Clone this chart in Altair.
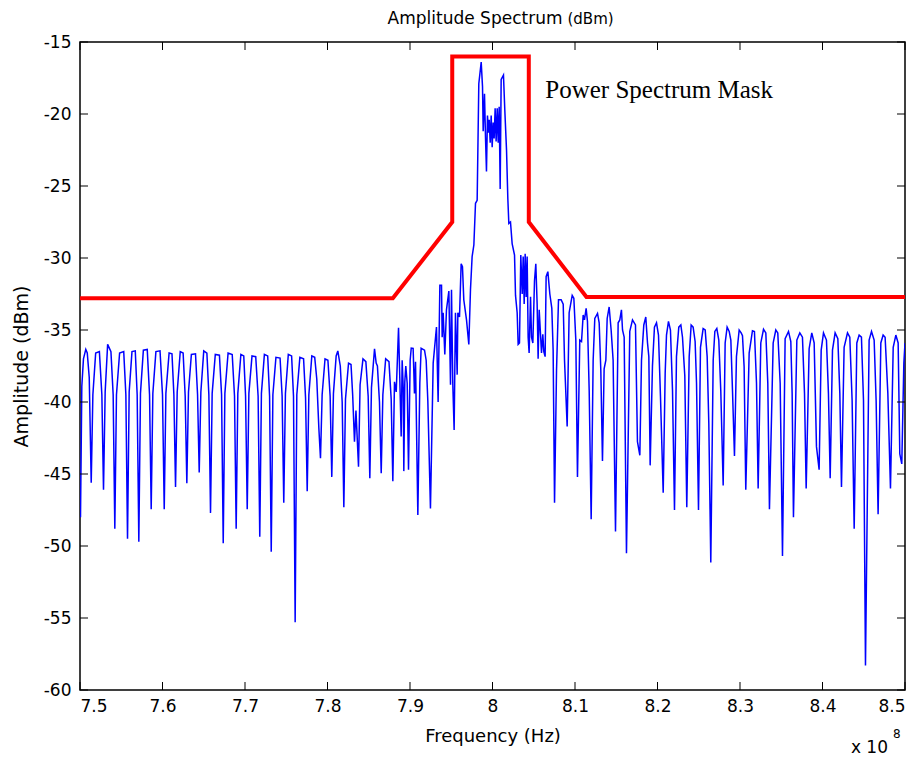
import altair as alt
import pandas as pd

trace_mhz = [
    750.06, 750.22, 750.42, 750.70, 750.88, 751.12, 751.36, 751.56, 751.90, 752.35, 752.65, 752.85,
    753.05, 753.35, 753.75, 754.02, 754.22, 754.42, 754.80, 755.30, 755.56, 755.76, 755.96, 756.30,
    756.70, 756.93, 757.13, 757.33, 757.68, 758.15, 758.43, 758.63, 758.83, 759.20, 759.70, 760.00,
    760.21, 760.41, 760.80, 761.15, 761.38, 761.58, 761.78, 762.15, 762.50, 762.75, 762.95, 763.15,
    763.50, 764.00, 764.25, 764.45, 764.65, 765.00, 765.38, 765.62, 765.82, 766.02, 766.40, 766.90,
    767.16, 767.36, 767.56, 767.95, 768.45, 768.73, 768.93, 769.13, 769.50, 769.85, 770.07, 770.27,
    770.47, 770.85, 771.30, 771.59, 771.79, 771.99, 772.35, 772.75, 772.98, 773.18, 773.38, 773.75,
    774.25, 774.50, 774.70, 774.90, 775.25, 775.65, 775.88, 776.08, 776.28, 776.65, 777.10, 777.34,
    777.54, 777.74, 778.10, 778.45, 778.70, 778.95, 779.15, 779.35, 779.70, 780.05, 780.32, 780.52,
    780.72, 781.05, 781.25, 781.55, 781.78, 781.98, 782.18, 782.55, 782.85, 783.05, 783.27, 783.45,
    783.76, 783.95, 784.30, 784.65, 784.93, 785.13, 785.33, 785.70, 785.90, 786.05, 786.30, 786.51,
    786.71, 787.05, 787.45, 787.72, 787.92, 788.12, 788.33, 788.61, 788.76, 788.93, 789.05, 789.18,
    789.25, 789.37, 789.49, 789.66, 789.82, 790.02, 790.15,
    # central band
    790.38, 790.54, 790.67, 790.95, 791.19, 791.35, 791.76, 791.96, 792.16, 792.48, 792.81, 793.21,
    793.41, 793.62, 793.82, 793.90, 794.02, 794.22, 794.42, 794.71, 794.91, 795.03, 795.19, 795.35,
    795.51, 795.72, 795.80, 796.00, 796.20, 796.36, 796.52, 796.85, 797.13, 797.33, 797.53, 797.74,
    797.94, 798.14, 798.34, 798.63, 798.79, 798.87, 799.03, 799.15, 799.27, 799.39, 799.51, 799.60,
    799.72, 799.84, 799.96, 800.08, 800.20, 800.32, 800.44, 800.57, 800.69, 800.81, 800.93, 801.05,
    801.33, 801.49, 801.70, 801.86, 801.98, 802.18, 802.38, 802.67, 802.79, 802.99, 803.11, 803.27,
    803.43, 803.60, 803.72, 803.84, 803.96, 804.08, 804.20, 804.32, 804.44, 804.61, 804.73, 804.89,
    805.09, 805.25, 805.41, 805.53, 805.66, 805.82, 805.94, 806.10, 806.22, 806.38, 806.50, 806.71,
    806.95, 807.19, 807.35, 807.52, 807.76, 808.00, 808.32, 808.57, 808.73, 809.05, 809.29, 809.66,
    809.86, 810.10, 810.30,
    # right side lobes
    810.58, 810.79, 810.99, 811.15, 811.35, 811.51, 811.72, 811.96, 812.20, 812.40, 812.73, 812.93,
    813.13, 813.33, 813.53, 813.74, 813.90, 814.14, 814.38, 814.62, 814.91, 815.23, 815.43, 815.63,
    815.76, 815.96, 816.24, 816.64, 816.97, 817.33, 817.57, 817.86, 818.06, 818.34, 818.58, 818.79,
    818.95, 819.11, 819.39, 819.63, 819.88, 820.12, 820.36, 820.69, 820.93, 821.09, 821.33, 821.57,
    821.82, 822.06, 822.30, 822.58, 822.83, 823.03, 823.31, 823.55, 823.84, 824.08, 824.32, 824.56,
    824.73, 824.97, 825.21, 825.53, 825.78, 826.02, 826.22, 826.46, 826.75, 826.95, 827.19, 827.43,
    827.67, 827.96, 828.20, 828.44, 828.69, 828.89, 829.09, 829.33, 829.57, 829.90, 830.14, 830.30,
    830.50, 830.70, 831.11, 831.51, 831.75, 832.00, 832.20, 832.52, 832.85, 833.13, 833.37, 833.57,
    834.02, 834.34, 834.58, 834.87, 835.15, 835.47, 835.88, 836.16, 836.32, 836.48, 836.89, 837.25,
    837.57, 837.82, 838.02, 838.38, 838.70, 838.99, 839.27, 839.59, 839.84, 840.12, 840.48, 840.72,
    840.93, 841.21, 841.53, 841.86, 842.10, 842.30, 842.62, 843.03, 843.31, 843.59, 843.84, 844.16,
    844.44, 844.72, 844.97, 845.21, 845.65, 845.94, 846.26, 846.50, 846.74, 847.07, 847.35, 847.59,
    847.92, 848.24, 848.57, 848.89, 849.17, 849.37, 849.61, 849.86, 850.00,
]
trace_db = [
    -48.0, -38.9, -37.0, -36.35, -36.6, -38.3, -45.6, -39.5, -36.6, -36.5, -39.5, -46.1,
    -39.3, -36.0, -36.5, -39.5, -48.8, -39.5, -36.6, -36.5, -39.5, -49.5, -39.3, -36.5,
    -36.45, -39.5, -49.7, -39.4, -36.4, -36.35, -39.5, -47.45, -39.4, -36.5, -36.45, -39.5,
    -47.45, -39.4, -36.6, -36.65, -39.5, -45.9, -39.3, -36.5, -36.6, -39.6, -45.65, -39.3,
    -36.7, -36.65, -39.5, -44.9, -39.3, -36.45, -36.6, -39.5, -47.7, -39.4, -36.7, -36.75,
    -39.5, -49.8, -39.4, -36.6, -36.7, -39.6, -48.8, -39.4, -36.7, -36.8, -39.6, -47.45,
    -39.4, -36.8, -36.85, -39.6, -49.35, -39.4, -36.7, -36.8, -39.6, -50.4, -39.5, -36.9,
    -36.95, -39.6, -47.0, -39.4, -36.7, -36.8, -39.6, -55.3, -39.5, -36.9, -37.0, -39.7,
    -46.2, -39.5, -36.8, -36.9, -38.4, -41.8, -43.9, -39.5, -37.0, -37.1, -39.6, -45.2,
    -39.4, -36.8, -36.45, -37.5, -40.0, -47.3, -39.8, -37.3, -37.4, -39.5, -42.75, -40.6,
    -44.5, -38.8, -37.0, -37.2, -39.6, -45.3, -39.0, -36.3, -37.3, -37.5, -40.0, -44.95,
    -39.5, -37.0, -37.2, -39.8, -45.5, -38.6, -39.3, -34.85, -38.3, -42.4, -37.1, -39.0,
    -44.8, -38.6, -37.5, -38.7, -44.7, -37.1, -36.25,
    # central band
    -36.27, -39.4, -37.2, -47.85, -38.7, -36.27, -36.4, -37.1, -39.9, -47.4, -37.3, -34.8,
    -40.0, -31.9, -31.9, -35.5, -33.8, -36.7, -33.6, -32.3, -38.8, -32.2, -38.8, -41.95,
    -33.8, -38.1, -33.8, -34.1, -30.4, -30.6, -32.9, -34.3, -36.0, -32.2, -29.9, -29.1,
    -26.2, -26.0, -17.9, -16.4, -18.1, -21.2, -18.6, -21.6, -24.0, -20.1, -21.3, -20.4,
    -22.0, -20.1, -22.3, -20.6, -21.7, -19.6, -21.9, -19.6, -22.0, -19.5, -25.2, -17.6,
    -17.3, -19.7, -22.5, -25.9, -27.6, -27.5, -29.0, -29.8, -32.6, -33.8, -36.0, -35.9,
    -29.8, -32.5, -29.9, -33.2, -29.7, -32.7, -29.9, -35.5, -36.6, -32.7, -35.5, -35.9,
    -31.6, -30.4, -33.2, -37.0, -33.6, -35.3, -36.6, -35.3, -36.5, -36.85, -31.3, -30.95,
    -32.5, -33.5, -36.4, -47.0, -37.8, -32.9, -32.9, -33.2, -37.1, -41.7, -33.8, -32.6,
    -32.8, -35.7, -45.2,
    # right side lobes
    -35.7, -35.8, -33.96, -34.3, -33.5, -34.4, -39.2, -48.15, -37.1, -34.2, -33.85, -34.5,
    -37.8, -44.1, -37.7, -37.1, -34.2, -33.4, -35.0, -37.1, -49.0, -34.5, -34.3, -33.6,
    -35.0, -35.5, -50.5, -35.1, -34.3, -34.65, -42.75, -43.7, -37.1, -34.65, -34.1, -35.9,
    -36.85, -44.4, -37.5, -34.8, -34.5, -35.35, -39.6, -46.3, -38.0, -35.35, -34.4, -35.0,
    -39.2, -47.5, -36.85, -34.8, -34.65, -35.5, -38.2, -47.3, -36.85, -34.65, -34.8, -35.8,
    -38.7, -47.5, -36.2, -34.9, -35.0, -36.85, -41.5, -51.15, -37.1, -35.1, -34.9, -35.7,
    -39.2, -45.8, -35.9, -34.8, -35.1, -35.7, -39.2, -43.75, -36.85, -35.0, -35.2, -35.4,
    -37.55, -46.1, -36.6, -35.05, -35.1, -38.7, -46.0, -35.9, -34.95, -35.2, -38.7, -47.45,
    -35.9, -35.0, -35.2, -38.7, -50.7, -35.6, -35.1, -35.8, -39.4, -48.0, -35.7, -35.2,
    -35.5, -39.4, -46.0, -36.3, -35.2, -35.9, -43.1, -44.7, -36.4, -35.2, -35.7, -39.4,
    -45.3, -36.4, -35.2, -35.6, -39.4, -45.9, -36.2, -35.2, -35.5, -39.9, -48.8, -35.9,
    -35.35, -35.5, -39.9, -58.3, -35.7, -35.1, -35.7, -39.9, -47.8, -35.9, -35.35, -35.5,
    -39.4, -46.0, -36.2, -35.35, -35.9, -43.6, -44.3, -37.3, -35.9,
]

# ---- red power spectrum mask
mask_mhz = [750.0, 787.92, 795.12, 795.12, 804.40, 804.40, 811.39, 850.0]
mask_db = [-32.8, -32.8, -27.5, -16.0, -16.0, -27.5, -32.7, -32.7]

# ---- axis ticks (x in units of 1e8 Hz)
x_ticks = [7.5, 7.6, 7.7, 7.8, 7.9, 8.0, 8.1, 8.2, 8.3, 8.4, 8.5]
y_ticks = [-60, -55, -50, -45, -40, -35, -30, -25, -20, -15]

title_main = "Amplitude Spectrum"
title_unit = "(dBm)"
x_title = "Frequency (Hz)"
y_title = "Amplitude (dBm)"
mask_label = "Power Spectrum Mask"
exp_base = "x 10"
exp_power = "8"

SANS = "DejaVu Sans"
SERIF = "Liberation Serif"

trace = pd.DataFrame({
    "f": [m / 100.0 for m in trace_mhz],
    "db": trace_db,
    "i": list(range(len(trace_mhz))),
})
mask = pd.DataFrame({
    "f": [m / 100.0 for m in mask_mhz],
    "db": mask_db,
    "i": list(range(len(mask_mhz))),
})

xscale = alt.Scale(domain=[7.5, 8.5], nice=False, zero=False)
yscale = alt.Scale(domain=[-60, -15], nice=False, zero=False)

xaxis = alt.Axis(
    values=x_ticks, labelExpr="format(datum.value, '.1~f')", title=x_title,
    grid=False, ticks=False, domain=False, labelFont=SANS, labelFontSize=17,
    labelColor="black", labelPadding=8, titleFont=SANS, titleFontSize=18,
    titleFontWeight="normal", titleColor="black", titlePadding=13,
)
yaxis = alt.Axis(
    values=y_ticks, labelExpr="'' + datum.value", title=y_title,
    grid=False, ticks=False, domain=False, labelFont=SANS, labelFontSize=17,
    labelColor="black", labelPadding=9, titleFont=SANS, titleFontSize=19,
    titleFontWeight="normal", titleColor="black", titlePadding=12,
)

blue = alt.Chart(trace).mark_line(color="#0000ff", strokeWidth=1.5, clip=True).encode(
    x=alt.X("f:Q", scale=xscale, axis=xaxis),
    y=alt.Y("db:Q", scale=yscale, axis=yaxis),
    order="i:Q",
)
red = alt.Chart(mask).mark_line(color="#ff0000", strokeWidth=4, clip=True).encode(
    x=alt.X("f:Q", scale=xscale),
    y=alt.Y("db:Q", scale=yscale),
    order="i:Q",
)

xt = pd.DataFrame({"f": x_ticks, "ybot": [-60] * len(x_ticks), "ytop": [-15] * len(x_ticks)})
yt = pd.DataFrame({"v": y_ticks, "xl": [7.5] * len(y_ticks), "xr": [8.5] * len(y_ticks)})

tick_bottom = alt.Chart(xt).mark_tick(orient="vertical", size=8, thickness=1, color="black", yOffset=-4, opacity=1).encode(
    x=alt.X("f:Q", scale=xscale), y=alt.Y("ybot:Q", scale=yscale))
tick_top = alt.Chart(xt).mark_tick(orient="vertical", size=8, thickness=1, color="black", yOffset=4, opacity=1).encode(
    x=alt.X("f:Q", scale=xscale), y=alt.Y("ytop:Q", scale=yscale))
tick_left = alt.Chart(yt).mark_tick(orient="horizontal", size=8, thickness=1, color="black", xOffset=4, opacity=1).encode(
    x=alt.X("xl:Q", scale=xscale), y=alt.Y("v:Q", scale=yscale))
tick_right = alt.Chart(yt).mark_tick(orient="horizontal", size=8, thickness=1, color="black", xOffset=-4, opacity=1).encode(
    x=alt.X("xr:Q", scale=xscale), y=alt.Y("v:Q", scale=yscale))

ann = pd.DataFrame({"f": [8.064], "db": [-18.9], "t": [mask_label]})
mask_text = alt.Chart(ann).mark_text(
    font=SERIF, fontSize=25, align="left", baseline="alphabetic", color="black"
).encode(x=alt.X("f:Q", scale=xscale), y=alt.Y("db:Q", scale=yscale), text="t:N")

# title: main words and a slightly smaller unit, anchored above the plot centre
ttl = pd.DataFrame({"f": [8.0], "db": [-15.0], "a": [title_main], "b": [title_unit]})
title1 = alt.Chart(ttl).mark_text(
    font=SANS, fontSize=17, align="right", baseline="alphabetic", dx=70, dy=-18, color="black"
).encode(x=alt.X("f:Q", scale=xscale), y=alt.Y("db:Q", scale=yscale), text="a:N")
title2 = alt.Chart(ttl).mark_text(
    font=SANS, fontSize=15, align="left", baseline="alphabetic", dx=75, dy=-18, color="black"
).encode(x=alt.X("f:Q", scale=xscale), y=alt.Y("db:Q", scale=yscale), text="b:N")

expo = pd.DataFrame({"f": [8.5], "db": [-60.0], "a": [exp_base], "b": [exp_power]})
exp_text1 = alt.Chart(expo).mark_text(
    font=SANS, fontSize=17, align="right", baseline="alphabetic", dx=-17, dy=63, color="black"
).encode(x=alt.X("f:Q", scale=xscale), y=alt.Y("db:Q", scale=yscale), text="a:N")
exp_text2 = alt.Chart(expo).mark_text(
    font=SANS, fontSize=12, align="left", baseline="alphabetic", dx=-12, dy=48, color="black"
).encode(x=alt.X("f:Q", scale=xscale), y=alt.Y("db:Q", scale=yscale), text="b:N")

chart = alt.layer(
    blue, red, tick_bottom, tick_top, tick_left, tick_right, mask_text,
    title1, title2, exp_text1, exp_text2
).properties(
    width=825, height=648,
    autosize=alt.AutoSizeParams(type="none"),
    padding={"left": 80, "top": 42, "right": 16, "bottom": 69},
    background="white",
).configure_view(stroke="black", strokeWidth=1.5)

chart.save("out.html", embed_options={"renderer": "svg", "actions": False})
